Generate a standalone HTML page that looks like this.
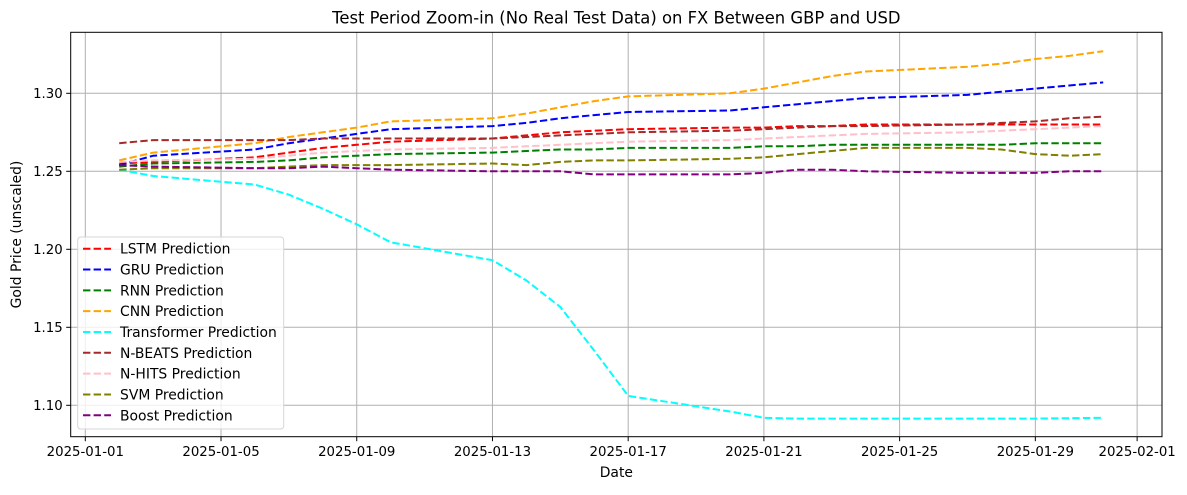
<!DOCTYPE html>
<html><head><meta charset="utf-8"><style>
body{margin:0;background:#fff;font-family:"Liberation Sans","DejaVu Sans",sans-serif}
svg text{font-family:"DejaVu Sans","Liberation Sans",sans-serif;fill:#000}
</style></head><body>
<svg id="chart" width="1187" height="490" viewBox="0 0 1187 490" xmlns="http://www.w3.org/2000/svg">
<rect width="1187" height="490" fill="#fff"/>
<g id="grid"></g><g id="series"></g><g id="axes"></g><g id="legend"></g>
</svg>
<script>
const dates=["2025-01-02","2025-01-03","2025-01-06","2025-01-07","2025-01-08","2025-01-09","2025-01-10","2025-01-13","2025-01-14","2025-01-15","2025-01-16","2025-01-17","2025-01-20","2025-01-21","2025-01-22","2025-01-23","2025-01-24","2025-01-27","2025-01-28","2025-01-29","2025-01-30","2025-01-31"];
const lstm=[1.255,1.256,1.259,1.262,1.265,1.267,1.269,1.271,1.273,1.275,1.276,1.277,1.278,1.278,1.279,1.279,1.280,1.280,1.280,1.280,1.280,1.280];
const gru=[1.254,1.260,1.264,1.268,1.271,1.274,1.277,1.279,1.281,1.284,1.286,1.288,1.289,1.291,1.293,1.295,1.297,1.299,1.301,1.303,1.305,1.307];
const rnn=[1.253,1.255,1.256,1.257,1.259,1.260,1.261,1.262,1.263,1.264,1.264,1.265,1.265,1.266,1.266,1.267,1.267,1.267,1.267,1.268,1.268,1.268];
const cnn=[1.257,1.262,1.268,1.272,1.275,1.278,1.282,1.284,1.287,1.291,1.295,1.298,1.300,1.303,1.307,1.311,1.314,1.317,1.319,1.322,1.324,1.327];
const transformer=[1.251,1.247,1.2415,1.235,1.226,1.216,1.2045,1.193,1.180,1.163,1.135,1.106,1.096,1.092,1.0915,1.0915,1.0915,1.0915,1.0915,1.0915,1.0917,1.092];
const nbeats=[1.268,1.270,1.270,1.270,1.271,1.271,1.271,1.271,1.272,1.273,1.274,1.275,1.276,1.277,1.278,1.279,1.279,1.280,1.281,1.282,1.284,1.285];
const nhits=[1.256,1.257,1.258,1.260,1.262,1.263,1.264,1.265,1.266,1.267,1.268,1.269,1.270,1.271,1.272,1.273,1.274,1.275,1.276,1.277,1.278,1.279];
const svm=[1.251,1.252,1.252,1.253,1.254,1.254,1.254,1.255,1.254,1.256,1.257,1.257,1.258,1.259,1.261,1.263,1.265,1.265,1.264,1.261,1.260,1.261];
const boost=[1.254,1.253,1.252,1.252,1.253,1.252,1.251,1.250,1.250,1.250,1.248,1.248,1.248,1.249,1.251,1.251,1.250,1.249,1.249,1.249,1.250,1.250];
const seriesNames=["LSTM Prediction","GRU Prediction","RNN Prediction","CNN Prediction","Transformer Prediction","N-BEATS Prediction","N-HITS Prediction","SVM Prediction","Boost Prediction"];
const yTicks=[1.10,1.15,1.20,1.25,1.30];
const xTicks=["2025-01-01","2025-01-05","2025-01-09","2025-01-13","2025-01-17","2025-01-21","2025-01-25","2025-01-29","2025-02-01"];

const NS="http://www.w3.org/2000/svg";
const L=70.7,R=1162,T=32.3,B=436.7;
const day0=Date.UTC(2025,0,1);
function dayNum(s){const p=s.split('-');return (Date.UTC(+p[0],+p[1]-1,+p[2])-day0)/86400000;}
function xs(s){return 85.3+dayNum(s)*33.93;}
function ys(v){return 171.3-(v-1.25)*1560;}
function mk(t,a,parent){const e=document.createElementNS(NS,t);for(const k in a)e.setAttribute(k,a[k]);parent.appendChild(e);return e;}
const grid=document.getElementById('grid'),axes=document.getElementById('axes'),sg=document.getElementById('series'),lg=document.getElementById('legend');

yTicks.forEach(v=>{const y=ys(v);
 const g=mk('line',{x1:L,x2:R,y1:y,y2:y,stroke:'#b0b0b0','stroke-width':1},grid);
 
 
 mk('line',{x1:L-4.5,x2:L,y1:y,y2:y,stroke:'#000','stroke-width':1},axes);
 const t=mk('text',{x:L-8,y:y+4.7,'text-anchor':'end','font-size':13.3},axes);t.textContent=v.toFixed(2);
 
 
});
xTicks.forEach(s=>{const x=xs(s);
 const g=mk('line',{x1:x,x2:x,y1:T,y2:B,stroke:'#b0b0b0','stroke-width':1},grid);
 
 
 mk('line',{x1:x,x2:x,y1:B,y2:B+4.5,stroke:'#000','stroke-width':1},axes);
 const t=mk('text',{x:x,y:B+19.5,'text-anchor':'middle','font-size':13.3},axes);t.textContent=s;
 
 
});
const frame=mk('rect',{x:L,y:T,width:R-L,height:B-T,fill:'none',stroke:'#000','stroke-width':1},axes);



const data=[lstm,gru,rnn,cnn,transformer,nbeats,nhits,svm,boost];
const colors=["red","blue","green","orange","cyan","brown","pink","olive","purple"];
const keys=["lstm","gru","rnn","cnn","transformer","n-beats","n-hits","svm","boost"];
data.forEach((arr,i)=>{
 const d=arr.map((v,j)=>(j?'L':'M')+xs(dates[j]).toFixed(1)+','+ys(v).toFixed(1)).join(' ');
 const p=mk('path',{d:d,fill:'none',stroke:colors[i],'stroke-width':2,'stroke-dasharray':'7.4,3.2'},sg);
 
 
});

const box=mk('rect',{x:77.7,y:237,width:206,height:192,rx:3,fill:'#fff','fill-opacity':0.8,stroke:'#d6d6d6','stroke-width':1},lg);


seriesNames.forEach((n,i)=>{const y=248.7+i*20.82;
 const g=mk('g',{},lg);
 
 
 mk('line',{x1:83,x2:111,y1:y,y2:y,stroke:colors[i],'stroke-width':2,'stroke-dasharray':'7.4,3.2'},g);
 const t=mk('text',{x:120,y:y+5,'font-size':13.9},g);t.textContent=n;
});

const title=mk('text',{x:(L+R)/2,y:23.5,'text-anchor':'middle','font-size':16.4},axes);
title.textContent="Test Period Zoom-in (No Real Test Data) on FX Between GBP and USD";


const xl=mk('text',{x:(L+R)/2,y:477,'text-anchor':'middle','font-size':13.9},axes);
xl.textContent="Date";


const yl=mk('text',{x:21,y:(T+B)/2,'text-anchor':'middle','font-size':13.9,transform:'rotate(-90 21 '+((T+B)/2)+')'},axes);
yl.textContent="Gold Price (unscaled)";


</script>
</body></html>
